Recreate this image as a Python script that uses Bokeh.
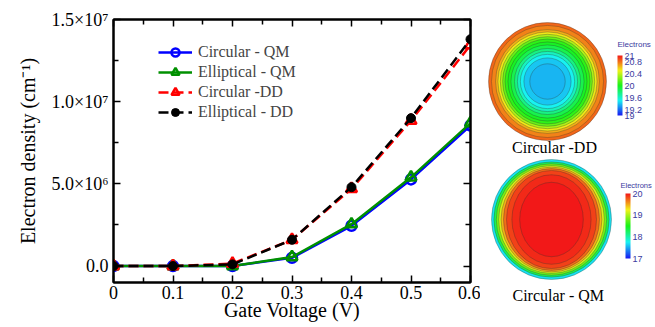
import colorsys
from bokeh.plotting import figure
from bokeh.layouts import row
from bokeh.models import (Legend, LegendItem, LinearAxis, FixedTicker, AllLabels, Title,
                          CustomJSTickFormatter, Range1d, ColorBar, LinearColorMapper,
                          Label, ColumnDataSource)
from bokeh.embed import file_html
from bokeh.resources import INLINE

# ---------------- data ----------------
gate_voltage = [0.0, 0.1, 0.2, 0.3, 0.4, 0.5, 0.6]
circular_qm = [0.0, 0.0, 0.0, 0.50e6, 2.45e6, 5.27e6, 8.55e6]
elliptical_qm = [0.0, 0.0, 0.0, 0.55e6, 2.55e6, 5.40e6, 8.70e6]
circular_dd = [0.0, 0.0, 0.15e6, 1.60e6, 4.70e6, 8.85e6, 13.45e6]
elliptical_dd = [0.0, 0.0, 0.10e6, 1.60e6, 4.80e6, 9.00e6, 13.80e6]

x_ticks = [0.0, 0.1, 0.2, 0.3, 0.4, 0.5, 0.6]
x_tick_labels = ["0", "0.1", "0.2", "0.3", "0.4", "0.5", "0.6"]
y_ticks = [0, 5000000, 10000000, 15000000]
y_tick_labels = ["0.0", "5.0×10⁶", "1.0×10⁷", "1.5×10⁷"]

series_names = ["Circular - QM", "Elliptical - QM", "Circular -DD", "Elliptical - DD"]

# cross-section maps: contour rings (radius as fraction of disc radius, electrons)
dd_ring_radius = [1.00, 0.95, 0.88, 0.84, 0.80, 0.76, 0.72, 0.67, 0.62, 0.56, 0.51, 0.46, 0.40, 0.30]
dd_ring_value = [20.82, 20.75, 20.65, 20.52, 20.35, 20.18, 20.05, 19.97, 19.88, 19.75, 19.62, 19.50, 19.40, 19.36]
qm_ring_radius = [1.00, 0.96, 0.92, 0.88, 0.84, 0.80, 0.75, 0.66, 0.53]
qm_ring_aspect = [1.00, 1.00, 1.01, 1.02, 1.04, 1.06, 1.09, 1.13, 1.17]
qm_ring_value = [17.7, 18.3, 18.8, 19.15, 19.45, 19.7, 19.85, 19.93, 20.0]
dd_bar_ticks = [19, 19.2, 19.6, 20, 20.4, 20.8, 21]
qm_bar_ticks = [17, 18, 19, 20]
dd_range = (19, 21)
qm_range = (17, 20)
map_titles = ["Circular -DD", "Circular - QM"]
bar_title = "Electrons"

# ---------------- styles ----------------
SERIF = "Liberation Serif"
palette = []
for i in range(256):
    r, g, b = colorsys.hsv_to_rgb((240 - 240 * i / 255) / 360, 0.9, 0.95)
    palette.append("#%02x%02x%02x" % (int(r * 255), int(g * 255), int(b * 255)))

# ---------------- main chart ----------------
p = figure(width=480, height=327, x_range=Range1d(0, 0.6), y_range=Range1d(-1.0e6, 1.5e7),
           output_backend="svg", toolbar_location=None,
           min_border_left=113, min_border_right=10, min_border_top=19, min_border_bottom=45)
p.xgrid.visible = False
p.ygrid.visible = False
p.outline_line_color = "black"
p.outline_line_width = 2
p.background_fill_color = "white"
p.border_fill_color = "white"

xfmt = CustomJSTickFormatter(args=dict(xlabels=x_tick_labels),
                             code="const i = Math.round(tick*10); return (i>=0 && i<xlabels.length) ? xlabels[i] : '';")
yfmt = CustomJSTickFormatter(args=dict(yvals=y_ticks, ylabels=y_tick_labels),
                             code="for (let i=0;i<yvals.length;i++){ if (Math.abs(yvals[i]-tick) < 1) return ylabels[i]; } return '';")

x_minor = [(a + b) / 2 for a, b in zip(x_ticks[:-1], x_ticks[1:])]
y_minor = [(a + b) / 2 for a, b in zip(y_ticks[:-1], y_ticks[1:])]

def xticker():
    return FixedTicker(ticks=x_ticks, minor_ticks=x_minor)

def yticker():
    return FixedTicker(ticks=y_ticks, minor_ticks=y_minor)

def style_axis(ax, show_labels):
    ax.axis_line_color = "black"
    ax.axis_line_width = 2
    ax.major_tick_in = 7
    ax.major_tick_out = 0
    ax.minor_tick_in = 5
    ax.minor_tick_out = 0
    ax.major_tick_line_width = 1.5
    ax.minor_tick_line_width = 1.5
    ax.major_label_text_font = SERIF
    ax.major_label_text_color = "black"
    ax.axis_label_text_font = SERIF
    ax.axis_label_text_font_style = "normal"
    ax.axis_label_text_color = "black"
    if not show_labels:
        ax.major_label_text_font_size = "0px"
        ax.major_label_text_alpha = 0

xa = p.xaxis[0]
xa.ticker = xticker()
xa.formatter = xfmt
style_axis(xa, True)
xa.major_label_text_font_size = "18px"
xa.major_label_standoff = 3
xa.axis_label = "Gate Voltage (V)"
xa.axis_label_text_font_size = "20px"
xa.axis_label_standoff = -3

ya = p.yaxis[0]
ya.ticker = yticker()
ya.formatter = yfmt
style_axis(ya, True)
ya.major_label_text_font_size = "18px"
ya.major_label_standoff = 5
ya.axis_label = "Electron density (cm⁻¹)"
ya.axis_label_text_font_size = "20px"
ya.axis_label_standoff = 10

top = LinearAxis(ticker=xticker())
style_axis(top, False)
p.add_layout(top, "above")
right = LinearAxis(ticker=yticker())
style_axis(right, False)
p.add_layout(right, "right")

blue, green, red = "#0000ff", "#009000", "#ff0000"
l1 = p.line(gate_voltage, circular_qm, line_color=blue, line_width=2.5)
m1 = p.scatter(gate_voltage, circular_qm, marker="circle", size=10, line_color=blue, fill_color=None, line_width=2.5)
l2 = p.line(gate_voltage, elliptical_qm, line_color=green, line_width=2.5)
m2 = p.scatter(gate_voltage, elliptical_qm, marker="triangle", size=11, line_color=green, fill_color=None, line_width=2.5)
l3 = p.line(gate_voltage, circular_dd, line_color=red, line_width=2.5, line_dash="10 5")
m3 = p.scatter(gate_voltage, circular_dd, marker="triangle", size=11, line_color=red, fill_color=None, line_width=2.5)
l4 = p.line(gate_voltage, elliptical_dd, line_color="black", line_width=2.5, line_dash="10 5")
m4 = p.scatter(gate_voltage, elliptical_dd, marker="circle", size=9, line_color="black", fill_color="black")

legend = Legend(items=[LegendItem(label=series_names[0], renderers=[l1, m1]),
                       LegendItem(label=series_names[1], renderers=[l2, m2]),
                       LegendItem(label=series_names[2], renderers=[l3, m3]),
                       LegendItem(label=series_names[3], renderers=[l4, m4])],
                location=(45, 160), border_line_color=None, background_fill_alpha=0,
                label_text_font=SERIF, label_text_font_size="16px",
                glyph_width=34, glyph_height=20, label_height=20, spacing=0, padding=0,
                label_standoff=6, margin=0)
p.add_layout(legend, "center")

# ---------------- cross-section maps (page-pixel coordinates) ----------------
q = figure(width=175, height=327, x_range=Range1d(480, 655), y_range=Range1d(282, 19),
           output_backend="svg", toolbar_location=None, x_axis_type=None, y_axis_type=None,
           min_border_left=0, min_border_right=0, min_border_top=19, min_border_bottom=45)
q.outline_line_color = None
q.background_fill_color = "white"
q.border_fill_color = "white"

dd_mapper = LinearColorMapper(palette=palette, low=dd_range[0], high=dd_range[1])
qm_mapper = LinearColorMapper(palette=palette, low=qm_range[0], high=qm_range[1])

R = 59
dd_src = ColumnDataSource(dict(x=[547] * len(dd_ring_radius), y=[81] * len(dd_ring_radius),
                               w=[2 * R * r for r in dd_ring_radius],
                               h=[2 * R * r for r in dd_ring_radius],
                               v=dd_ring_value))
q.ellipse(x="x", y="y", width="w", height="h", source=dd_src,
          fill_color={"field": "v", "transform": dd_mapper},
          line_color="#303030", line_alpha=0.45, line_width=0.7)

R2 = 60
qm_src = ColumnDataSource(dict(x=[551] * len(qm_ring_radius), y=[219] * len(qm_ring_radius),
                               w=[2 * R2 * r for r in qm_ring_radius],
                               h=[2 * R2 * r * a for r, a in zip(qm_ring_radius, qm_ring_aspect)],
                               v=qm_ring_value))
q.ellipse(x="x", y="y", width="w", height="h", source=qm_src,
          fill_color={"field": "v", "transform": qm_mapper},
          line_color="#303030", line_alpha=0.45, line_width=0.7)

q.add_layout(Label(x=554, y=147, text=map_titles[0], text_align="center", text_baseline="middle",
                   text_font=SERIF, text_font_size="16px", text_color="black"))
qm_title = Title(text=map_titles[1], align="left", offset=32, standoff=4,
                 text_font=SERIF, text_font_size="16px", text_font_style="normal",
                 text_color="black")
q.add_layout(qm_title, "below")

bar_fmt = CustomJSTickFormatter(code="return String(Math.round(tick*10)/10);")

def make_bar(mapper, bticks, loc, h):
    return ColorBar(color_mapper=mapper, ticker=FixedTicker(ticks=bticks), formatter=bar_fmt,
                    width=5, height=h, location=loc, title=None,
                    major_label_text_font="Liberation Sans", major_label_text_font_size="9px",
                    major_label_text_color="#3a3aa0", label_standoff=2,
                    major_label_policy=AllLabels(),
                    major_tick_line_color=None, minor_tick_line_color=None, bar_line_color=None,
                    border_line_color=None, background_fill_alpha=0, padding=0, margin=0)

q.add_layout(make_bar(dd_mapper, dd_bar_ticks, (137, 167), 60), "center")
q.add_layout(make_bar(qm_mapper, qm_bar_ticks, (145, 24), 65), "center")
q.add_layout(Label(x=617, y=44, text=bar_title, text_align="left", text_baseline="middle",
                   text_font="Liberation Sans", text_font_size="8px", text_color="#3a3aa0"))
q.add_layout(Label(x=620, y=185, text=bar_title, text_align="left", text_baseline="middle",
                   text_font="Liberation Sans", text_font_size="7.5px", text_color="#3a3aa0"))

layout = row(p, q)
open("out.html", "w").write(file_html(layout, INLINE))
